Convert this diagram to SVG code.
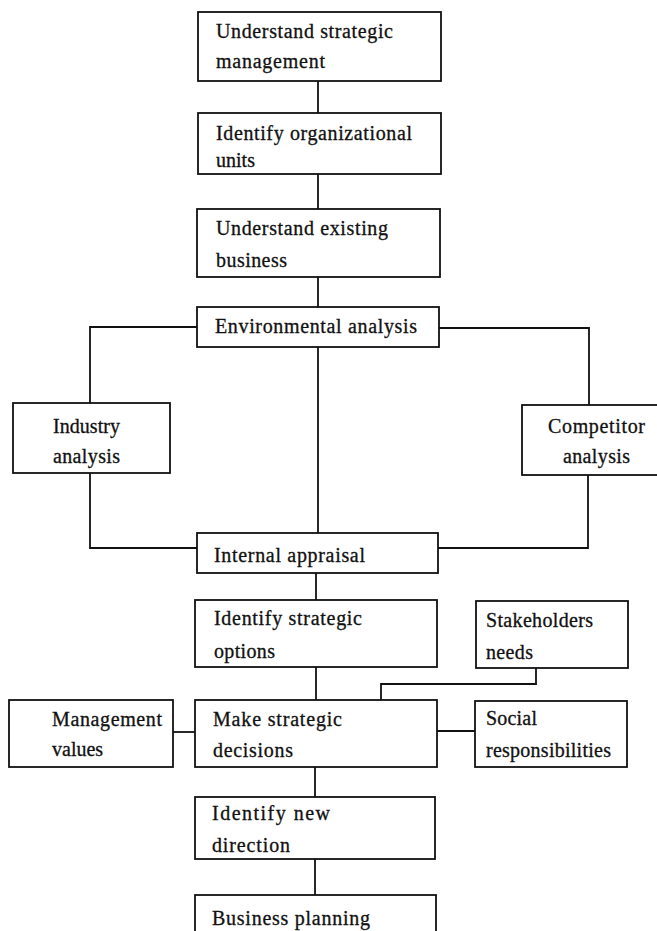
<svg xmlns="http://www.w3.org/2000/svg" width="657" height="931" viewBox="0 0 657 931">
<style>
.box{fill:#fff;stroke:#111;stroke-width:1.8}
.t{font-family:"Liberation Serif","Times New Roman",serif;font-size:20px;fill:#111;stroke:#111;stroke-width:0.3}
.c{fill:none;stroke:#111;stroke-width:1.8}
</style>
<rect width="657" height="931" fill="#fff"/>
<g id="connectors">
<line class="c" x1="318" y1="81" x2="318" y2="113"/>
<line class="c" x1="318" y1="174" x2="318" y2="209"/>
<line class="c" x1="318" y1="277" x2="318" y2="307"/>
<line class="c" x1="318" y1="347" x2="318" y2="533"/>
<polyline class="c" points="197,327 90,327 90,403"/>
<polyline class="c" points="90,473 90,548 197,548"/>
<polyline class="c" points="439,328 589,328 589,405"/>
<polyline class="c" points="588,475 588,548 438,548"/>
<line class="c" x1="316" y1="573" x2="316" y2="600"/>
<line class="c" x1="316" y1="667" x2="316" y2="700"/>
<polyline class="c" points="536,668 536,684 381,684 381,700"/>
<line class="c" x1="173" y1="732" x2="195" y2="732"/>
<line class="c" x1="437" y1="731" x2="475" y2="731"/>
<line class="c" x1="315" y1="767" x2="315" y2="797"/>
<line class="c" x1="315" y1="859" x2="315" y2="895"/>
</g>
<g id="n1"><rect class="box" x="198" y="12" width="243" height="69"/>
<text class="t" x="216" y="38" textLength="177" lengthAdjust="spacing">Understand strategic</text>
<text class="t" x="216" y="68" textLength="109" lengthAdjust="spacing">management</text></g>
<g id="n2"><rect class="box" x="198" y="113" width="243" height="61"/>
<text class="t" x="216" y="140" textLength="196" lengthAdjust="spacing">Identify organizational</text>
<text class="t" x="216" y="167" textLength="39" lengthAdjust="spacing">units</text></g>
<g id="n3"><rect class="box" x="197" y="209" width="243" height="68"/>
<text class="t" x="216" y="235" textLength="172" lengthAdjust="spacing">Understand existing</text>
<text class="t" x="216" y="267" textLength="71" lengthAdjust="spacing">business</text></g>
<g id="n4"><rect class="box" x="197" y="307" width="242" height="40"/>
<text class="t" x="215" y="333" textLength="202" lengthAdjust="spacing">Environmental analysis</text></g>
<g id="n5"><rect class="box" x="13" y="403" width="157" height="70"/>
<text class="t" x="53" y="433" textLength="67" lengthAdjust="spacing">Industry</text>
<text class="t" x="53" y="463" textLength="67" lengthAdjust="spacing">analysis</text></g>
<g id="n6"><rect class="box" x="522" y="405" width="140" height="70"/>
<text class="t" x="548" y="433" textLength="97" lengthAdjust="spacing">Competitor</text>
<text class="t" x="563" y="463" textLength="67" lengthAdjust="spacing">analysis</text></g>
<g id="n7"><rect class="box" x="197" y="533" width="241" height="40"/>
<text class="t" x="214" y="562" textLength="151" lengthAdjust="spacing">Internal appraisal</text></g>
<g id="n8"><rect class="box" x="195" y="600" width="242" height="67"/>
<text class="t" x="214" y="625" textLength="148" lengthAdjust="spacing">Identify strategic</text>
<text class="t" x="214" y="658" textLength="61" lengthAdjust="spacing">options</text></g>
<g id="n9"><rect class="box" x="476" y="601" width="152" height="67"/>
<text class="t" x="486" y="627" textLength="107" lengthAdjust="spacing">Stakeholders</text>
<text class="t" x="486" y="659" textLength="47" lengthAdjust="spacing">needs</text></g>
<g id="n10"><rect class="box" x="9" y="700" width="164" height="67"/>
<text class="t" x="52" y="726" textLength="110" lengthAdjust="spacing">Management</text>
<text class="t" x="52" y="756">values</text></g>
<g id="n11"><rect class="box" x="195" y="700" width="242" height="67"/>
<text class="t" x="213" y="726" textLength="129" lengthAdjust="spacing">Make strategic</text>
<text class="t" x="213" y="757" textLength="80" lengthAdjust="spacing">decisions</text></g>
<g id="n12"><rect class="box" x="475" y="701" width="152" height="66"/>
<text class="t" x="486" y="725" textLength="51" lengthAdjust="spacing">Social</text>
<text class="t" x="486" y="757" textLength="125" lengthAdjust="spacing">responsibilities</text></g>
<g id="n13"><rect class="box" x="195" y="797" width="240" height="62"/>
<text class="t" x="212" y="820" textLength="118" lengthAdjust="spacing">Identify new</text>
<text class="t" x="212" y="852" textLength="78" lengthAdjust="spacing">direction</text></g>
<g id="n14"><rect class="box" x="195" y="895" width="241" height="45"/>
<text class="t" x="212" y="925" textLength="158" lengthAdjust="spacing">Business planning</text></g>
</svg>
